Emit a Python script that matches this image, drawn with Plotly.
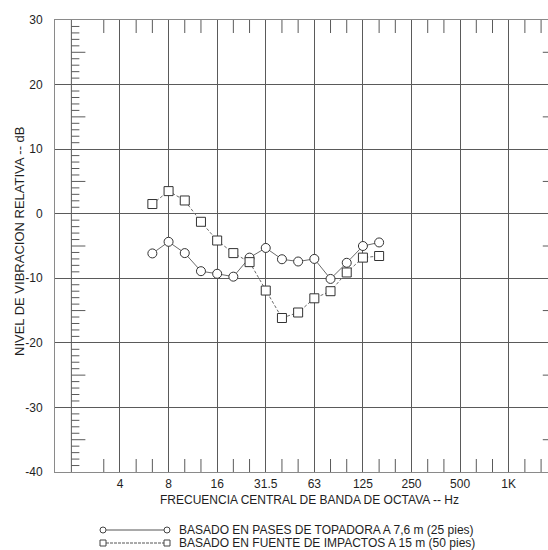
import math
import plotly.graph_objects as go

# ---------------- data ----------------
bands = ["6.3", "8", "10", "12.5", "16", "20", "25", "31.5", "40", "50", "63", "80", "100", "125", "160"]
bulldozer_db = [-6.15, -4.35, -6.1, -8.9, -9.3, -9.75, -6.8, -5.3, -7.05, -7.4, -7.0, -10.1, -7.6, -5.0, -4.45]
impact_db = [1.5, 3.5, 2.05, -1.25, -4.15, -6.1, -7.5, -11.9, -16.15, -15.3, -13.1, -12.0, -9.1, -6.8, -6.55]
x_tick_labels = ["4", "8", "16", "31.5", "63", "125", "250", "500", "1K"]
y_tick_vals = [-40, -30, -20, -10, 0, 10, 20, 30]
y_tick_labels = ["-40", "-30", "-20", "-10", "0", "10", "20", "30"]
series_names = ["BASADO EN PASES DE TOPADORA A 7,6 m (25 pies)",
                "BASADO EN FUENTE DE IMPACTOS A 15 m (50 pies)"]

# ---------------- geometry helpers ----------------
W, H = 548, 550
ML, MR, MT, MB = 55, 0, 20, 78
PW, PH = W - ML - MR, H - MT - MB
X_RANGE = [0.1892, 3.2435]          # log10 Hz
Y_RANGE = [-40, 30]
px_per_oct = PW / ((X_RANGE[1] - X_RANGE[0]) / math.log10(2))
px_per_db = PH / (Y_RANGE[1] - Y_RANGE[0])


def third_oct(n):
    return 1000.0 * 2 ** (n / 3.0)


def band_pos(label):
    f = float(label)
    return third_oct(round(3 * math.log2(f / 1000.0)))


xs = [band_pos(b) for b in bands]
x_tick_vals = [third_oct(3 * k) for k in range(-8, 1)]

GRID = "#5a5a5a"
FRAME = "#8a8a8a"
FONT = "Liberation Sans, Arial, sans-serif"
TXT = "#1e1e1e"

fig = go.Figure()

# ---------------- tick furniture (as line segments) ----------------
seg_x, seg_y = [], []

def seg(x0, y0, x1, y1):
    seg_x.extend([x0, x1, None])
    seg_y.extend([y0, y1, None])

# third-octave ticks along bottom and top
tick_db = 13 / px_per_db
for n in range(-25, 3):
    if n % 3 == 0:
        continue
    f = third_oct(n)
    seg(f, Y_RANGE[0], f, Y_RANGE[0] + tick_db)
    seg(f, Y_RANGE[1], f, Y_RANGE[1] - tick_db)

# left dB ladder at 2 Hz
ladder = third_oct(-27)
seg(ladder, Y_RANGE[0], ladder, Y_RANGE[1])
for d in range(Y_RANGE[0], Y_RANGE[1] + 1):
    if d % 10 == 0:
        continue
    L = 14 if d % 5 == 0 else 8
    seg(ladder, d, ladder * 2 ** (L / px_per_oct), d)

# right ladder at 2 kHz (only long ticks fall in view)
ladder_r = third_oct(3)
for d in range(Y_RANGE[0], Y_RANGE[1] + 1):
    if d % 5 == 0 and d % 10 != 0:
        seg(ladder_r * 2 ** (-14.5 / px_per_oct), d, ladder_r, d)

fig.add_trace(go.Scatter(x=seg_x, y=seg_y, mode="lines",
                         line=dict(color=GRID, width=1), hoverinfo="skip",
                         showlegend=False))

# ---------------- data series ----------------
fig.add_trace(go.Scatter(
    x=xs, y=bulldozer_db, mode="lines+markers", name=series_names[0],
    line=dict(color="#6a6a6a", width=1),
    marker=dict(symbol="circle", size=9, color="white",
                line=dict(color="#333333", width=1)),
    showlegend=False))
fig.add_trace(go.Scatter(
    x=xs, y=impact_db, mode="lines+markers", name=series_names[1],
    line=dict(color="#6a6a6a", width=1, dash="3px,2px"),
    marker=dict(symbol="square", size=9, color="white",
                line=dict(color="#333333", width=1)),
    showlegend=False))

# ---------------- custom legend ----------------
def py(ypix):
    return (H - MB - ypix) / PH

def px(xpix):
    return (xpix - ML) / PW

shapes = []
annotations = []
rows = [(530, "circle", "solid"), (543, "rect", "dot")]
for (ypix, sym, dash), label in zip(rows, series_names):
    yy = py(ypix)
    shapes.append(dict(type="line", xref="paper", yref="paper",
                       x0=px(106), x1=px(164), y0=yy, y1=yy,
                       line=dict(color="#555555", width=1,
                                 dash="solid" if dash == "solid" else "3px,1px")))
    r = 3
    for cx in (103, 167):
        shapes.append(dict(type=sym, xref="paper", yref="paper",
                           x0=px(cx - r), x1=px(cx + r),
                           y0=py(ypix + r), y1=py(ypix - r),
                           fillcolor="white", line=dict(color="#444444", width=1)))
    annotations.append(dict(xref="paper", yref="paper", x=px(177), y=yy,
                            xanchor="left", yanchor="middle", text=label,
                            showarrow=False,
                            font=dict(family=FONT, size=12, color=TXT)))

# axis titles
annotations.append(dict(xref="paper", yref="paper", x=px(309), y=py(500),
                        xanchor="center", yanchor="middle",
                        text="FRECUENCIA CENTRAL DE BANDA DE OCTAVA -- Hz",
                        showarrow=False,
                        font=dict(family=FONT, size=12, color=TXT)))
annotations.append(dict(xref="paper", yref="paper", x=px(19), y=py(241),
                        xanchor="center", yanchor="middle", textangle=-90,
                        text="NIVEL DE VIBRACION RELATIVA -- dB",
                        showarrow=False,
                        font=dict(family=FONT, size=13, color=TXT)))

fig.update_layout(
    width=W, height=H,
    margin=dict(l=ML, r=MR, t=MT, b=MB, pad=0),
    paper_bgcolor="white", plot_bgcolor="white",
    font=dict(family=FONT, size=12, color=TXT),
    shapes=shapes, annotations=annotations,
    xaxis=dict(type="log", range=X_RANGE, tickmode="array",
               tickvals=x_tick_vals, ticktext=x_tick_labels,
               showgrid=True, gridcolor=GRID, gridwidth=1,
               showline=True, linecolor=FRAME, linewidth=1, mirror=True,
               ticks="", ticklabelstandoff=1, zeroline=False,
               tickfont=dict(family=FONT, size=12, color=TXT)),
    yaxis=dict(range=Y_RANGE, tickmode="array", tickvals=y_tick_vals,
               ticktext=y_tick_labels,
               showgrid=True, gridcolor=GRID, gridwidth=1,
               showline=True, linecolor=FRAME, linewidth=1,
               ticks="", ticklabelstandoff=9, zeroline=False,
               tickfont=dict(family=FONT, size=12, color=TXT)),
)

fig.write_html("out.html", config={"displayModeBar": False},
               post_script="document.body.style.margin='0';document.body.style.padding='0';")
